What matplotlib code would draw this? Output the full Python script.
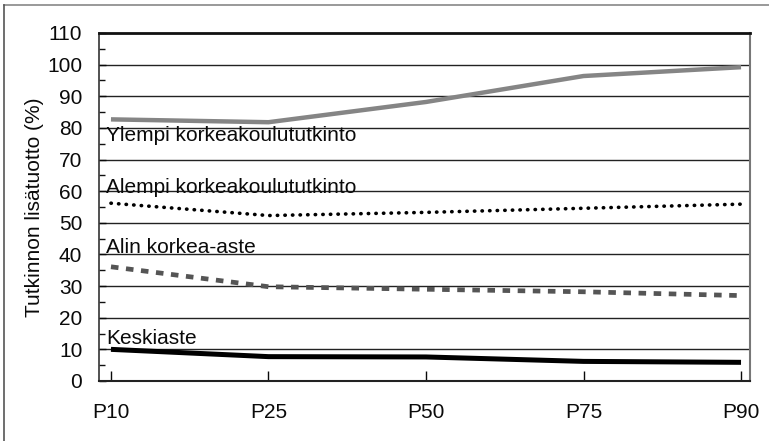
import numpy as np
import matplotlib.pyplot as plt
from matplotlib.lines import Line2D

plt.rcParams['font.family'] = ['Liberation Sans', 'DejaVu Sans']

# Data
categories = ['P10', 'P25', 'P50', 'P75', 'P90']
ylempi = [82.7, 81.8, 88.2, 96.4, 99.2]
alempi = [56.2, 52.3, 53.3, 54.6, 55.9]
alin = [36.1, 29.8, 29.0, 28.2, 27.0]
keskiaste = [10.0, 7.7, 7.6, 6.2, 5.9]
series_labels = ['Ylempi korkeakoulututkinto', 'Alempi korkeakoulututkinto',
                 'Alin korkea-aste', 'Keskiaste']
label_y = [77.5, 61.2, 42.3, 13.5]

fs = 15

fig = plt.figure(figsize=(7.69, 4.41), dpi=100)
ax = fig.add_axes([99 / 769, 1 - 381 / 441, 651 / 769, 348 / 441])

x = np.arange(len(categories))

# horizontal grid
for v in range(10, 110, 10):
    ax.axhline(v, color='#222222', lw=1.0, zorder=1)

ax.plot(x, ylempi, color='#858585', lw=3.2, solid_capstyle='butt', zorder=3)
ax.plot(x, alempi, color='black', lw=2.6, linestyle=(0, (0.1, 2.0)),
        dash_capstyle='round', zorder=3)
ax.plot(x, alin, color='#555555', lw=3.4, linestyle=(0, (1.6, 1.6)),
        dash_capstyle='butt', zorder=3)
ax.plot(x, keskiaste, color='black', lw=3.6, solid_capstyle='butt', zorder=3)

for lab, ly in zip(series_labels, label_y):
    ax.text(-0.03, ly, lab, fontsize=fs, va='center', ha='left',
            color='#0a0a0a', zorder=4)

ax.set_xlim(-0.076, 4.057)
ax.set_ylim(0, 110)
ax.set_xticks(x)
ax.set_xticklabels(categories)
ax.set_yticks(range(0, 111, 10))
ax.set_yticks(range(5, 110, 10), minor=True)
ax.tick_params(axis='y', which='major', direction='in', length=5, width=1,
               labelsize=fs, pad=12, colors='#0a0a0a')
ax.tick_params(axis='y', which='minor', direction='in', length=4, width=1,
               color='#111111')
ax.tick_params(axis='x', direction='in', length=7, width=1, labelsize=fs,
               pad=16, colors='#0a0a0a')
ax.set_ylabel('Tutkinnon lisätuotto (%)', fontsize=fs, labelpad=2,
              color='#0a0a0a')

ax.spines['top'].set_linewidth(2.0)
ax.spines['top'].set_color('#111111')
ax.spines['bottom'].set_linewidth(1.5)
ax.spines['bottom'].set_color('#222222')
ax.spines['left'].set_linewidth(1.2)
ax.spines['left'].set_color('#333333')
ax.spines['right'].set_linewidth(1.5)
ax.spines['right'].set_color('#777777')

# outer frame (top and left only)
fig.add_artist(Line2D([4 / 769, 1], [1 - 5 / 441, 1 - 5 / 441],
                      transform=fig.transFigure, color='#888888', lw=1.2))
fig.add_artist(Line2D([4 / 769, 4 / 769], [0, 1 - 5 / 441],
                      transform=fig.transFigure, color='#555555', lw=1.2))

fig.savefig('out.png', dpi=100)
